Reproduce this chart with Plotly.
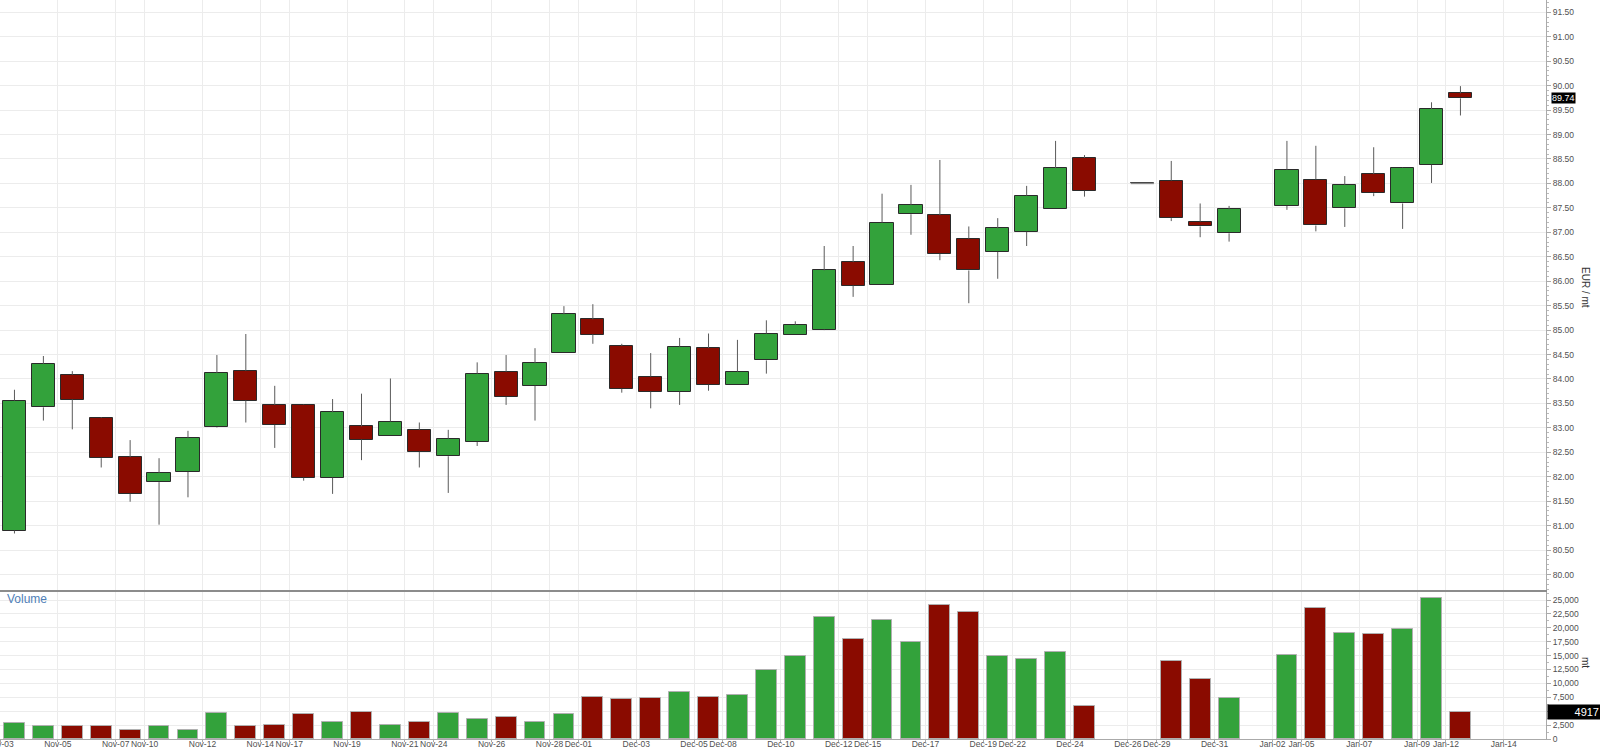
import plotly.graph_objects as go
from datetime import datetime, timedelta

# ---------------- data ----------------
dates = [
    "2014-11-03", "2014-11-04", "2014-11-05", "2014-11-06", "2014-11-07",
    "2014-11-10", "2014-11-11", "2014-11-12", "2014-11-13", "2014-11-14",
    "2014-11-17", "2014-11-18", "2014-11-19", "2014-11-20", "2014-11-21",
    "2014-11-24", "2014-11-25", "2014-11-26", "2014-11-27", "2014-11-28",
    "2014-12-01", "2014-12-02", "2014-12-03", "2014-12-04", "2014-12-05",
    "2014-12-08", "2014-12-09", "2014-12-10", "2014-12-11", "2014-12-12",
    "2014-12-15", "2014-12-16", "2014-12-17", "2014-12-18", "2014-12-19",
    "2014-12-22", "2014-12-23", "2014-12-24", "2014-12-26",
    "2014-12-29", "2014-12-30", "2014-12-31",
    "2015-01-02", "2015-01-05", "2015-01-06", "2015-01-07", "2015-01-08",
    "2015-01-09", "2015-01-12",
]
opens = [
    80.90, 83.42, 84.09, 83.20, 82.40,
    81.89, 82.10, 83.01, 84.17, 83.47,
    83.47, 81.98, 83.03, 82.84, 82.96,
    82.42, 82.71, 84.15, 83.86, 84.53,
    85.22, 84.68, 84.05, 83.74, 84.63,
    83.88, 84.38, 84.91, 85.01, 86.39,
    85.93, 87.37, 87.35, 86.87, 86.60,
    87.01, 87.47, 88.52, 88.00,
    88.06, 87.22, 86.98,
    87.54, 88.08, 87.49, 88.19, 87.59,
    88.38, 89.84,
]
highs = [
    83.78, 84.47, 84.16, 83.22, 82.75,
    82.38, 82.94, 84.49, 84.92, 83.86,
    83.48, 83.59, 83.70, 84.01, 83.11,
    82.96, 84.34, 84.49, 84.63, 85.49,
    85.53, 84.72, 84.53, 84.84, 84.93,
    84.80, 85.20, 85.18, 86.72, 86.72,
    87.79, 87.97, 88.48, 87.12, 87.29,
    87.95, 88.87, 88.58, 88.00,
    88.46, 87.59, 87.54,
    88.87, 88.77, 88.15, 88.74, 88.33,
    89.66, 89.99,
]
lows = [
    80.84, 83.15, 82.97, 82.19, 81.49,
    81.02, 81.58, 83.00, 83.11, 82.59,
    81.92, 81.65, 82.34, 82.84, 82.19,
    81.67, 82.63, 83.47, 83.15, 84.53,
    84.72, 83.72, 83.40, 83.47, 83.76,
    83.88, 84.11, 84.91, 85.00, 85.68,
    85.93, 86.95, 86.43, 85.55, 86.05,
    86.72, 87.47, 87.73, 88.00,
    87.23, 86.90, 86.81,
    87.46, 87.02, 87.11, 87.74, 87.07,
    88.01, 89.39,
]
closes = [
    83.56, 84.31, 83.58, 82.38, 81.65,
    82.08, 82.80, 84.12, 83.56, 83.06,
    81.98, 83.32, 82.76, 83.13, 82.51,
    82.78, 84.11, 83.63, 84.32, 85.32,
    84.91, 83.80, 83.74, 84.66, 83.88,
    84.15, 84.93, 85.11, 86.22, 85.91,
    87.20, 87.56, 86.56, 86.22, 87.08,
    87.75, 88.31, 87.85, 88.00,
    87.29, 87.12, 87.47,
    88.28, 87.14, 87.97, 87.80, 88.32,
    89.52, 89.74,
]
volumes = [
    2940, 2400, 2400, 2400, 1600,
    2250, 1700, 4600, 2400, 2550,
    4410, 3100, 4780, 2500, 3100,
    4600, 3680, 4040, 3120, 4410,
    7540, 7170, 7350, 8450, 7540,
    7900, 12500, 14890, 21870, 18010,
    21320, 17460, 24080, 22790, 14890,
    14340, 15620, 5880, None,
    13970, 10840, 7350,
    15070, 23530, 19120, 18930, 19850,
    25360, 4917,
]
tick_dates = [
    "2014-11-03", "2014-11-05", "2014-11-07", "2014-11-10", "2014-11-12",
    "2014-11-14", "2014-11-17", "2014-11-19", "2014-11-21", "2014-11-24",
    "2014-11-26", "2014-11-28", "2014-12-01", "2014-12-03", "2014-12-05",
    "2014-12-08", "2014-12-10", "2014-12-12", "2014-12-15", "2014-12-17",
    "2014-12-19", "2014-12-22", "2014-12-24", "2014-12-26", "2014-12-29",
    "2014-12-31", "2015-01-02", "2015-01-05", "2015-01-07", "2015-01-09",
    "2015-01-12", "2015-01-14",
]
vol_ticks = [0, 2500, 5000, 7500, 10000, 12500, 15000, 17500, 20000, 22500, 25000]
last_price = 89.74
last_volume = 4917

# ---------------- styling ----------------
GREEN = "#33a23b"
RED = "#8a0b00"
GRID = "#ececec"
TXT = "#505050"
FONT = "Arial, Liberation Sans, sans-serif"
TICK_SIZE = 8.5
DAY_MS = 86400000

xs = [datetime.strptime(d, "%Y-%m-%d") + timedelta(hours=12) for d in dates]
colors = [GREEN if c > o else (RED if c < o else "#888888")
          for o, c in zip(opens, closes)]

fig = go.Figure()

# wicks (upper and lower segments only)
wx, wy = [], []
for x, o, h, l, c in zip(xs, opens, highs, lows, closes):
    top, bot = max(o, c), min(o, c)
    if h > top:
        wx += [x, x, None]
        wy += [h, top, None]
    if l < bot:
        wx += [x, x, None]
        wy += [bot, l, None]
fig.add_trace(go.Scatter(x=wx, y=wy, mode="lines", xaxis="x2", yaxis="y2",
                         line=dict(color="#5a5a5a", width=1),
                         hoverinfo="skip", showlegend=False))

# doji (open == close) drawn as a flat line
dx, dy = [], []
for x, o, c in zip(xs, opens, closes):
    if o == c:
        dx += [x - timedelta(hours=9.6), x + timedelta(hours=9.6), None]
        dy += [o, o, None]
fig.add_trace(go.Scatter(x=dx, y=dy, mode="lines", xaxis="x2", yaxis="y2",
                         line=dict(color="#8a8a8a", width=1.5),
                         hoverinfo="skip", showlegend=False))

# bodies
fig.add_trace(go.Bar(
    x=xs, y=[abs(c - o) for o, c in zip(opens, closes)],
    base=[min(o, c) for o, c in zip(opens, closes)],
    width=0.8 * DAY_MS, xaxis="x2", yaxis="y2",
    marker=dict(color=colors, line=dict(color="#2a2a2a", width=1)),
    showlegend=False, hoverinfo="skip"))

# volume
fig.add_trace(go.Bar(
    x=xs, y=volumes, width=0.72 * DAY_MS, xaxis="x", yaxis="y",
    marker=dict(color=colors, line=dict(color="#b0b0b0", width=1)),
    showlegend=False, hoverinfo="skip"))

x_range = ["2014-11-03 00:00", "2015-01-15 11:00"]
common_x = dict(
    type="date", range=x_range,
    rangebreaks=[dict(bounds=["sat", "mon"])],
    tickmode="array", tickvals=tick_dates, tickformat="%b-%d",
    showgrid=True, gridcolor=GRID, gridwidth=1,
    zeroline=False, automargin=False, fixedrange=True,
)

H_PLOT = 739.0
W_PLOT = 1546.0
vol_top = 1 - 590 / H_PLOT

fig.update_layout(
    width=1600, height=750,
    margin=dict(l=0, r=54, t=0, b=11, pad=0),
    paper_bgcolor="white", plot_bgcolor="white",
    font=dict(family=FONT, size=TICK_SIZE, color=TXT),
    bargap=0, barmode="overlay",
    showlegend=False,
    xaxis=dict(**common_x, anchor="y", domain=[0, 1],
               showticklabels=True, ticks="outside", ticklen=2,
               tickcolor="#aaaaaa", ticklabeloverflow="allow",
               tickangle=0, ticklabelstandoff=-5,
               tickfont=dict(family=FONT, size=TICK_SIZE, color=TXT),
               showline=True, linecolor="#aaaaaa", linewidth=1),
    xaxis2=dict(**common_x, anchor="y2", domain=[0, 1], matches="x",
                showticklabels=False, ticks="",
                showline=True, linecolor="#8c8c8c", linewidth=2),
    yaxis=dict(domain=[0, vol_top], range=[0, 26800], side="right",
               anchor="x", tickmode="array", tickvals=vol_ticks,
               ticktext=["" if v == 5000 else f"{v:,}" for v in vol_ticks],
               showgrid=True, gridcolor=GRID,
               zeroline=False, showline=True, linecolor="#aaaaaa",
               linewidth=1, ticks="outside", ticklen=4,
               tickcolor="#aaaaaa", automargin=False, fixedrange=True,
               minor=dict(dtick=1250, ticklen=2, tickcolor="#bbbbbb",
                          ticks="outside", showgrid=False),
               tickfont=dict(family=FONT, size=TICK_SIZE, color=TXT)),
    yaxis2=dict(domain=[vol_top, 1], range=[79.684, 91.752], side="right",
                anchor="x2", tickmode="linear", tick0=80, dtick=0.5,
                tickformat=".2f", showgrid=True, gridcolor=GRID,
                zeroline=False, showline=True, linecolor="#aaaaaa",
                linewidth=1, ticks="outside", ticklen=4,
                tickcolor="#aaaaaa", automargin=False, fixedrange=True,
                minor=dict(dtick=0.1, ticklen=2, tickcolor="#bbbbbb",
                           ticks="outside", showgrid=False),
                tickfont=dict(family=FONT, size=TICK_SIZE, color=TXT)),
)

fig.add_annotation(text="Volume", xref="paper", yref="paper",
                   x=5 / W_PLOT, y=1 - 599 / H_PLOT, xanchor="left",
                   yanchor="middle", showarrow=False,
                   font=dict(family=FONT, size=12, color="#4f7fb8"))
fig.add_annotation(text="EUR / mt", xref="paper", yref="paper",
                   x=1585 / W_PLOT, y=1 - 288 / H_PLOT, textangle=90,
                   xanchor="center", yanchor="middle", showarrow=False,
                   font=dict(family=FONT, size=10, color="#333333"))
fig.add_annotation(text="mt", xref="paper", yref="paper",
                   x=1586 / W_PLOT, y=1 - 663 / H_PLOT, textangle=90,
                   xanchor="center", yanchor="middle", showarrow=False,
                   font=dict(family=FONT, size=10, color="#333333"))
fig.add_annotation(text=f"{last_price:.2f}", xref="paper", yref="y2",
                   x=1551 / W_PLOT, y=last_price, xanchor="left",
                   yanchor="middle", showarrow=False, bgcolor="black",
                   borderpad=0,
                   font=dict(family=FONT, size=9, color="white"))
fig.add_annotation(text=f"{last_volume}", xref="paper", yref="y",
                   x=1547 / W_PLOT, y=last_volume, xanchor="left",
                   yanchor="middle", showarrow=False, bgcolor="black",
                   borderpad=1, width=50, align="right",
                   font=dict(family=FONT, size=11, color="white"))

fig.write_html(
    "out.html",
    config={"displayModeBar": False},
    post_script="document.body.style.margin='0px';"
                "document.body.style.overflow='hidden';",
)
